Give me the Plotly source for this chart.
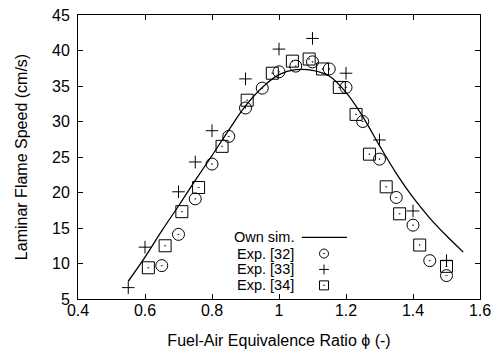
import plotly.graph_objects as go

# Own simulation curve
sim_phi = [0.55, 0.60, 0.65, 0.70, 0.75, 0.80, 0.85, 0.90, 0.95, 1.00, 1.05,
           1.10, 1.15, 1.20, 1.25, 1.30, 1.35, 1.40, 1.45, 1.50, 1.55]
sim_su = [7.5, 10.9, 14.6, 18.1, 21.7, 25.2, 28.8, 32.2, 34.8, 36.6, 37.3,
          37.2, 36.4, 34.1, 30.7, 26.6, 22.7, 19.3, 16.4, 13.9, 11.6]

# Exp. [32]
e32_phi = [0.65, 0.70, 0.75, 0.80, 0.85, 0.90, 0.95, 1.00, 1.05, 1.10, 1.15,
           1.20, 1.25, 1.30, 1.35, 1.40, 1.45, 1.50]
e32_su = [9.7, 14.1, 19.1, 24.0, 27.9, 31.9, 34.7, 37.0, 37.8, 38.4, 37.4,
          34.8, 30.0, 24.7, 19.3, 15.4, 10.4, 8.3]

# Exp. [33]
e33_phi = [0.55, 0.60, 0.70, 0.75, 0.80, 0.90, 1.00, 1.10, 1.20, 1.30, 1.40, 1.50]
e33_su = [6.6, 12.3, 20.1, 24.3, 28.7, 36.0, 40.2, 41.7, 36.8, 27.4, 17.4, 10.4]

# Exp. [34]
e34_phi = [0.61, 0.66, 0.71, 0.76, 0.83, 0.905, 0.98, 1.04, 1.09, 1.13, 1.18,
           1.23, 1.27, 1.32, 1.36, 1.42, 1.50]
e34_su = [9.4, 12.5, 17.3, 20.7, 26.5, 33.0, 36.8, 38.5, 38.8, 37.4, 34.8,
          31.0, 25.4, 20.8, 17.0, 12.6, 9.6]

x_ticks = [0.4, 0.6, 0.8, 1.0, 1.2, 1.4, 1.6]
x_tick_text = ["0.4", "0.6", "0.8", "1", "1.2", "1.4", "1.6"]
y_ticks = [5, 10, 15, 20, 25, 30, 35, 40, 45]

legend_labels = ["Own sim.", "Exp. [32]", "Exp. [33]", "Exp. [34]"]

FONT = "Liberation Sans, Arial, sans-serif"
mk_line = dict(color="black", width=1)

fig = go.Figure()
fig.add_trace(go.Scatter(x=sim_phi, y=sim_su, mode="lines", line=dict(color="black", width=1.3),
                         line_shape="spline", showlegend=False))
fig.add_trace(go.Scatter(x=e32_phi, y=e32_su, mode="markers",
                         marker=dict(symbol="circle-open-dot", size=12, color="black", line=mk_line),
                         showlegend=False))
fig.add_trace(go.Scatter(x=e33_phi, y=e33_su, mode="markers",
                         marker=dict(symbol="cross-thin-open", size=9, color="black", line=mk_line),
                         showlegend=False))
fig.add_trace(go.Scatter(x=e34_phi, y=e34_su, mode="markers",
                         marker=dict(symbol="square-open-dot", size=12, color="black", line=mk_line),
                         showlegend=False))

# Custom legend (text left, sample right) on a hidden overlay axis
rows_y = [0.217, 0.160, 0.104, 0.048]
sym_x = 0.612
fig.add_trace(go.Scatter(x=[0.557, 0.669], y=[rows_y[0], rows_y[0]], mode="lines",
                         line=dict(color="black", width=1.3), xaxis="x2", yaxis="y2", showlegend=False))
for sym, sz, yy in zip(["circle-open-dot", "cross-thin-open", "square-open-dot"], [9, 7, 9], rows_y[1:]):
    fig.add_trace(go.Scatter(x=[sym_x], y=[yy], mode="markers",
                             marker=dict(symbol=sym, size=sz, color="black", line=mk_line),
                             xaxis="x2", yaxis="y2", showlegend=False))
for lab, yy in zip(legend_labels, rows_y):
    fig.add_annotation(x=0.541, y=yy, xref="paper", yref="paper", text=lab, showarrow=False,
                       xanchor="right", yanchor="middle", borderpad=0,
                       font=dict(size=14.5, color="black", family=FONT))

axis_common = dict(showline=True, linecolor="black", linewidth=1, mirror="ticks", ticks="inside",
                   ticklen=5, tickcolor="black", showgrid=False, zeroline=False, automargin=False,
                   tickfont=dict(size=16, color="black", family=FONT))

fig.update_layout(
    width=493, height=353,
    margin=dict(l=78, r=13, t=15, b=54),
    plot_bgcolor="white", paper_bgcolor="white",
    font=dict(family=FONT, size=16, color="black"),
    xaxis=dict(range=[0.4, 1.6], tickvals=x_ticks, ticktext=x_tick_text, ticklabelstandoff=-3,
               title=dict(text="Fuel-Air Equivalence Ratio ϕ (-)", font=dict(size=16), standoff=16),
               **axis_common),
    yaxis=dict(range=[5, 45], tickvals=y_ticks, ticklabelstandoff=4,
               title=dict(text="Laminar Flame Speed (cm/s)", font=dict(size=16), standoff=20),
               **axis_common),
    xaxis2=dict(range=[0, 1], overlaying="x", visible=False, fixedrange=True),
    yaxis2=dict(range=[0, 1], overlaying="y", visible=False, fixedrange=True),
    showlegend=False,
)

fig.write_html("out.html")
